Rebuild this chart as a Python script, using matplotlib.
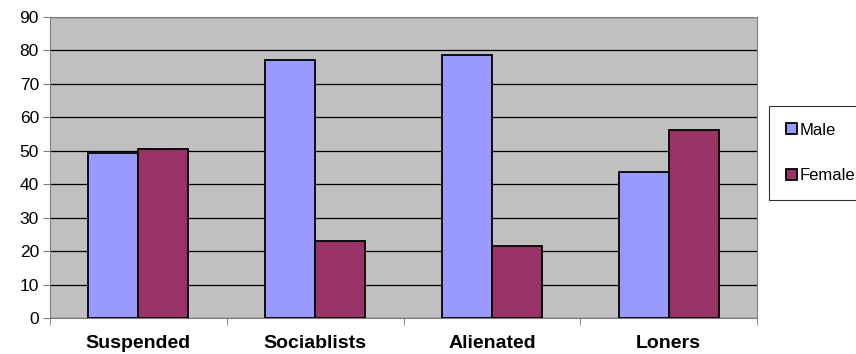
import matplotlib
matplotlib.use('AGG')
import matplotlib.pyplot as plt
import numpy as np

# Data
categories = ['Suspended', 'Sociablists', 'Alienated', 'Loners']
male = [49.2, 77.2, 78.6, 43.7]
female = [50.4, 23.0, 21.5, 56.2]

plt.rcParams['font.family'] = ['Liberation Sans', 'DejaVu Sans']

fig = plt.figure(figsize=(8.56, 3.54), dpi=100)
ax = fig.add_axes([50 / 856, 1 - 318 / 354, 707 / 856, 301 / 354])

x = np.arange(len(categories))
width = 0.283

ax.bar(x - width / 2, male, width, color='#9999FF', edgecolor='black', linewidth=1.3, label='Male', zorder=3)
ax.bar(x + width / 2, female, width, color='#993366', edgecolor='black', linewidth=1.3, label='Female', zorder=3)

ax.set_facecolor('#C0C0C0')
ax.set_xlim(-0.5, len(categories) - 0.5)
ax.set_ylim(0, 90)
ax.set_yticks(range(0, 91, 10))
ax.yaxis.grid(True, color='black', linewidth=0.9, zorder=1)
ax.set_axisbelow(True)

ax.set_xticks(x)
ax.set_xticklabels(categories, fontsize=14, fontweight='bold')
ax.set_xticks(np.arange(-0.5, len(categories), 1), minor=True)
ax.tick_params(axis='x', which='major', length=0, pad=12)
ax.tick_params(axis='x', which='minor', length=5, color='#808080')
ax.tick_params(axis='y', labelsize=12.5, length=5, color='#808080', pad=3)

for side in ['left', 'bottom', 'top', 'right']:
    ax.spines[side].set_color('#808080')

# legend box sits at the right edge, partly outside like the original
leg = fig.legend(loc='upper left', bbox_to_anchor=(769 / 856, 1 - 106 / 354),
                 borderaxespad=0, fontsize=12, frameon=True, fancybox=False,
                 edgecolor='black', handlelength=0.65, handleheight=0.65,
                 handletextpad=0.2, labelspacing=1.85, borderpad=1.0)
leg.get_frame().set_linewidth(0.8)

fig.savefig('out.png', dpi=100)
